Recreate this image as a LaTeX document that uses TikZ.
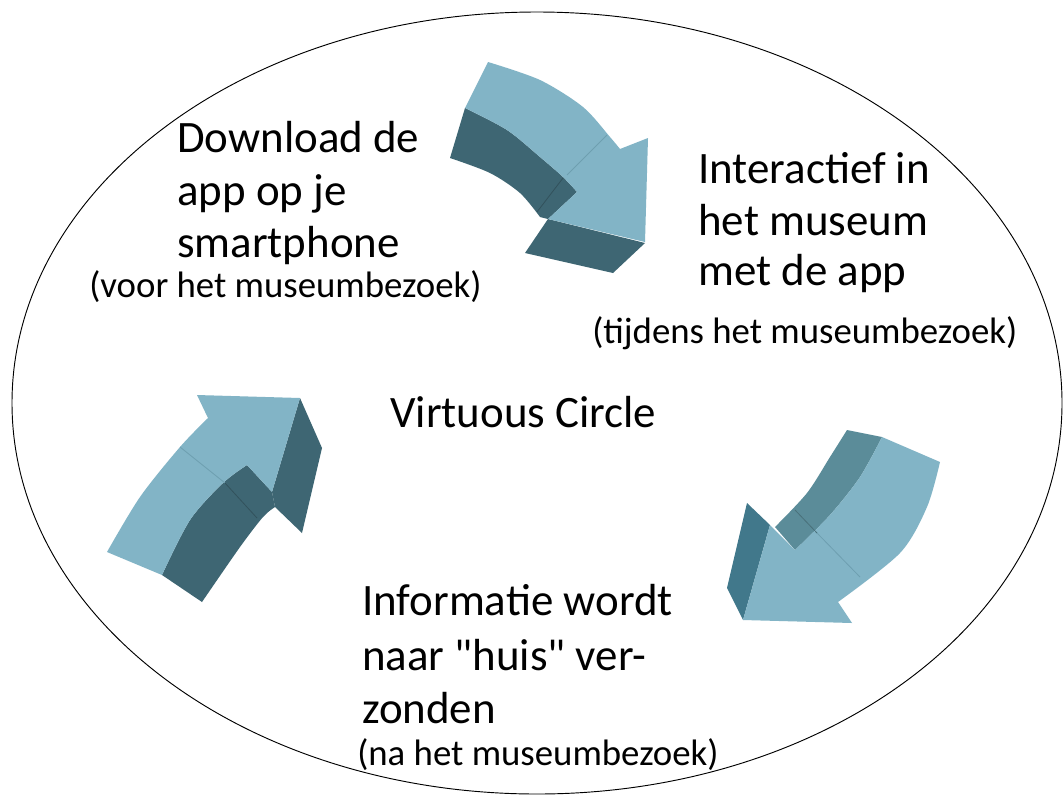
\documentclass[tikz,border=0pt]{standalone}
\usepackage{fontspec}
\setmainfont{Carlito}[Ligatures=TeXOff]
\definecolor{arrowlight}{HTML}{82B4C6}
\definecolor{arrowdark}{HTML}{3E6673}
\definecolor{arrowmid}{HTML}{5B8C99}
\definecolor{arrowside}{HTML}{41788B}
\definecolor{seamcol}{HTML}{6E9FB0}
\tikzset{
  lightface/.style={fill=arrowlight},
  darkface/.style={fill=arrowdark},
  seam/.style={draw=seamcol, line width=0.6pt},
  bigtext/.style={anchor=base west, inner sep=0pt, font=\fontsize{33.7}{40}\selectfont},
  smalltext/.style={anchor=base west, inner sep=0pt, font=\fontsize{27.6}{33}\selectfont}
}
\begin{document}
\begin{tikzpicture}[x=0.75pt, y=-0.75pt]
    \useasboundingbox (0,0) rectangle (1063,797);
    \fill[white] (0,0) rectangle (1063,797);

    % the big ring
    \draw[line width=0.7pt] (537,403) ellipse [x radius=525, y radius=391];

    % top arrow
    \fill[darkface] (465,108) -- (450,158)
        -- plot[smooth] coordinates {(450,158) (490,173) (520,193) (540,217)}
        -- (548,219) -- (577,192)
        -- plot[smooth] coordinates {(577,192) (563,177) (540,157) (507,130) (465,108)} -- cycle;
    \fill[darkface] (548,219) -- (525,253) -- (613,273) -- (645,243) -- cycle;
    \fill[lightface] (488,62)
        -- plot[smooth] coordinates {(488,62) (540,80) (583,107) (610,137) (620,149)}
        -- (648,138) -- (645,242) -- (548,219) -- (577,192)
        -- plot[smooth] coordinates {(577,192) (563,177) (540,157) (507,130) (465,108)} -- cycle;
    \draw[seam] (607,135) -- (567,175);
    \draw[seam, draw=arrowdark!80!black] (563,178) -- (537,212);

    % left arrow
    \fill[darkface] (162,575) -- (202,602)
        -- plot[smooth] coordinates {(202,602) (240,547) (263,517) (275,507)}
        -- (272,492) -- (247,465)
        -- plot[smooth] coordinates {(247,465) (223,483) (190,520) (162,575)} -- cycle;
    \fill[darkface] (300,398) -- (322,448) -- (302,533) -- (275,507) -- (272,492) -- cycle;
    \fill[lightface] (107,552)
        -- plot[smooth] coordinates {(107,552) (140,497) (180,447) (208,418)}
        -- (197,395) -- (300,398) -- (272,492) -- (247,465)
        -- plot[smooth] coordinates {(247,465) (223,483) (190,520) (162,575)} -- cycle;
    \draw[seam] (180,447) -- (225,483);
    \draw[seam, draw=arrowdark!80!black] (225,483) -- (257,518);

    % right arrow
    \fill[arrowmid] (847,430) -- (882,437)
        -- plot[smooth] coordinates {(882,437) (860,477) (830,515) (795,550)}
        -- (775,527)
        -- plot[smooth] coordinates {(775,527) (807,493) (830,457) (847,430)} -- cycle;
    \fill[arrowside] (747,503) -- (770,525) -- (743,620) -- (727,588) -- cycle;
    \fill[lightface] (882,437) -- (940,462)
        -- plot[smooth] coordinates {(940,462) (927,507) (900,553) (838,602)}
        -- (852,623) -- (743,620) -- (770,525) -- (795,550)
        -- plot[smooth] coordinates {(795,550) (830,515) (860,477) (882,437)} -- cycle;
    \draw[seam] (817,533) -- (860,577);
    \draw[seam, draw=arrowmid!80!black] (795,510) -- (817,533);

    % labels
    \node[bigtext] (dl1) at (177,152) {Download de};
    \node[bigtext] (dl2) at (177,205) {app op je};
    \node[bigtext] (dl3) at (177,257) {smartphone};
    \node[smalltext] (dlsub) at (89,297) {(voor het museumbezoek)};

    \node[bigtext] (ia1) at (698,183) {Interactief in};
    \node[bigtext] (ia2) at (698,235) {het museum};
    \node[bigtext] (ia3) at (698,285) {met de app};
    \node[smalltext] (iasub) at (592,343) {(tijdens het museumbezoek)};

    \node[bigtext] (vc) at (390,427) {Virtuous Circle};

    \node[bigtext] (inf1) at (362,615) {Informatie wordt};
    \node[bigtext] (inf2) at (362,670) {naar "huis" ver-};
    \node[bigtext] (inf3) at (362,723) {zonden};
    \node[smalltext] (infsub) at (357,765) {(na het museumbezoek)};
\end{tikzpicture}
\end{document}
